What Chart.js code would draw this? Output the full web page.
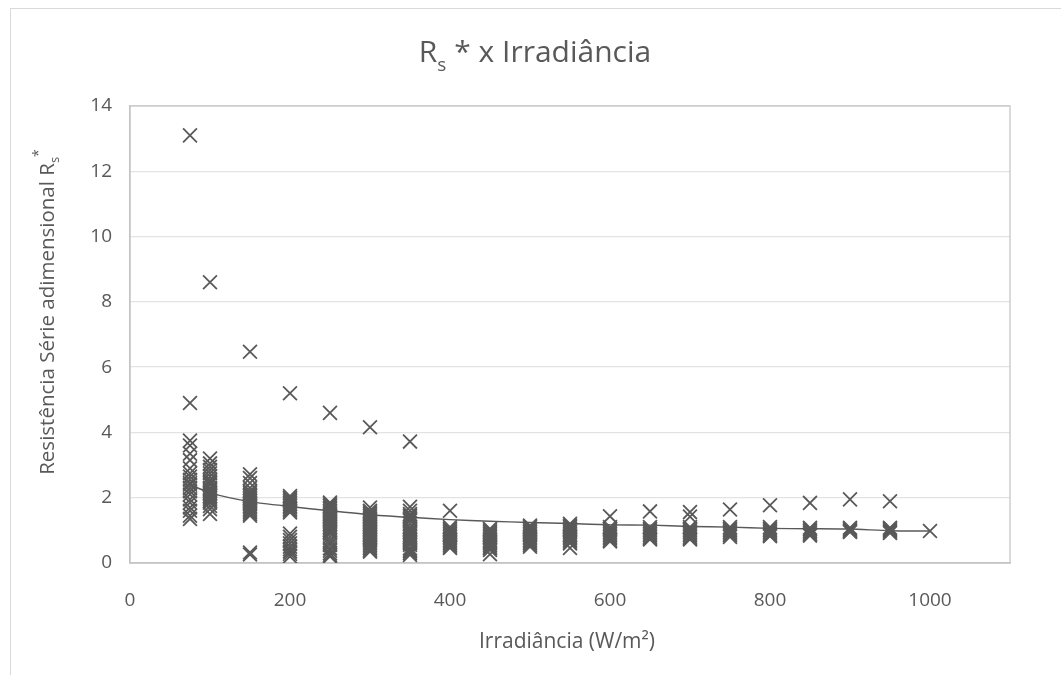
<!DOCTYPE html>
<html>
<head>
<meta charset="utf-8">
<title>Rs* x Irradiância</title>
<script src="https://cdn.jsdelivr.net/npm/chart.js@4.4.1/dist/chart.umd.min.js"></script>
<style>
  body { margin: 0; background: #fff; }
  #rsChart { display: block; }
</style>
</head>
<body>
<canvas id="rsChart" width="1061" height="675"></canvas>
<script>
// irradiance levels (W/m²) and measured Rs* at each level
var irr = [75, 100, 150, 200, 250, 300, 350, 400, 450, 500, 550, 600, 650, 700, 750, 800, 850, 900, 950, 1000];

var rs075 = [13.1, 4.9, 3.75, 3.6, 3.35, 3.15, 2.9, 2.75, 2.65, 2.55, 2.45, 2.4, 2.3, 2.2, 2.1, 1.95, 1.85, 1.7, 1.6, 1.45, 1.35];
var rs100 = [8.6, 3.2, 3.05, 2.95, 2.85, 2.75, 2.65, 2.55, 2.5, 2.45, 2.4, 2.3, 2.25, 2.2, 2.15, 2.1, 2.05, 2.0, 1.95, 1.9, 1.85, 1.75, 1.65, 1.5];
var rs150 = [6.47, 2.72, 2.6, 2.45, 2.3, 2.2, 2.15, 2.1, 2.05, 2.0, 1.95, 1.9, 1.85, 1.8, 1.75, 1.7, 1.65, 1.6, 1.55, 1.5, 1.45, 0.32, 0.26];
var rs200 = [5.2, 2.05, 2.0, 1.95, 1.9, 1.85, 1.8, 1.75, 1.7, 1.65, 1.6, 1.55, 0.9, 0.8, 0.7, 0.6, 0.5, 0.42, 0.35, 0.28, 0.2];
var rs250 = [4.6, 1.85, 1.8, 1.75, 1.7, 1.65, 1.6, 1.55, 1.5, 1.45, 1.4, 1.35, 1.3, 1.25, 1.2, 1.15, 1.1, 1.05, 1.0, 0.95, 0.9, 0.8, 0.7, 0.62, 0.55, 0.45, 0.38, 0.3, 0.25, 0.2];
var rs300 = [4.16, 1.7, 1.6, 1.55, 1.5, 1.45, 1.4, 1.35, 1.3, 1.25, 1.2, 1.15, 1.1, 1.05, 1.0, 0.95, 0.9, 0.85, 0.8, 0.75, 0.7, 0.65, 0.6, 0.55, 0.5, 0.45, 0.4, 0.35];
var rs350 = [3.72, 1.72, 1.6, 1.5, 1.45, 1.4, 1.35, 1.3, 1.2, 1.1, 1.05, 1.0, 0.95, 0.9, 0.85, 0.8, 0.75, 0.7, 0.65, 0.6, 0.55, 0.45, 0.4, 0.35, 0.3, 0.25];
var rs400 = [1.6, 1.1, 1.05, 1.0, 0.95, 0.9, 0.85, 0.8, 0.75, 0.7, 0.65, 0.6, 0.55, 0.5, 0.46];
var rs450 = [1.05, 1.0, 0.95, 0.9, 0.85, 0.8, 0.75, 0.7, 0.65, 0.6, 0.55, 0.5, 0.45, 0.4, 0.27];
var rs500 = [1.15, 1.1, 1.05, 1.0, 0.95, 0.9, 0.85, 0.8, 0.75, 0.7, 0.65, 0.6, 0.55, 0.5];
var rs550 = [1.2, 1.15, 1.1, 1.05, 1.0, 0.95, 0.9, 0.85, 0.8, 0.75, 0.7, 0.65, 0.6, 0.46];
var rs600 = [1.43, 1.1, 1.05, 1.0, 0.95, 0.9, 0.85, 0.8, 0.75, 0.7, 0.66];
var rs650 = [1.58, 1.1, 1.05, 1.0, 0.95, 0.9, 0.85, 0.8, 0.75, 0.72];
var rs700 = [1.56, 1.42, 1.1, 1.05, 1.0, 0.95, 0.9, 0.85, 0.8, 0.75, 0.72];
var rs750 = [1.64, 1.1, 1.05, 1.0, 0.95, 0.9, 0.85, 0.8];
var rs800 = [1.77, 1.1, 1.05, 1.0, 0.95, 0.9, 0.85, 0.82];
var rs850 = [1.84, 1.08, 1.03, 0.98, 0.93, 0.88, 0.84];
var rs900 = [1.95, 1.08, 1.04, 1.0, 0.97, 0.95];
var rs950 = [1.89, 1.08, 1.04, 1.0, 0.96, 0.92];
var rs1000 = [0.98];

// curve through the measurements
var rsCurve = [2.4, 2.15, 1.88, 1.73, 1.6, 1.48, 1.4, 1.33, 1.28, 1.24, 1.21, 1.17, 1.16, 1.12, 1.1, 1.06, 1.05, 1.04, 0.99, 0.98];

var xTicks = [0, 200, 400, 600, 800, 1000];

var measured = [rs075, rs100, rs150, rs200, rs250, rs300, rs350, rs400, rs450, rs500,
                rs550, rs600, rs650, rs700, rs750, rs800, rs850, rs900, rs950, rs1000];

var grey = '#595959';
var fontFamily = '"Open Sans", "Liberation Sans", sans-serif';

var points = [];
for (var i = 0; i < irr.length; i++) {
  for (var j = 0; j < measured[i].length; j++) {
    points.push({ x: irr[i], y: measured[i][j] });
  }
}
var curve = [];
for (var k = 0; k < irr.length; k++) {
  curve.push({ x: irr[k], y: rsCurve[k] });
}

// outer frame + plot box
var frame = {
  id: 'frame',
  beforeDraw: function(chart) {
    var c = chart.ctx;
    c.save();
    c.fillStyle = '#fff';
    c.fillRect(0, 0, chart.width, chart.height);
    c.strokeStyle = '#d9d9d9';
    c.lineWidth = 1;
    c.strokeRect(10.5, 8.5, 1200, 800);
    c.restore();
  },
  beforeDatasetsDraw: function(chart) {
    var a = chart.chartArea, c = chart.ctx;
    c.save();
    c.strokeStyle = '#c6c6c6';
    c.lineWidth = 1.3;
    c.strokeRect(a.left, a.top, a.right - a.left, a.bottom - a.top);
    c.restore();
  }
};

// titles with subscript / superscript
function drawParts(c, parts, cx, baseY) {
  var total = 0;
  parts.forEach(function(p) {
    c.font = p.size + 'px ' + fontFamily;
    p.w = c.measureText(p.text).width;
    total += p.w;
  });
  var x = cx - total / 2;
  parts.forEach(function(p) {
    c.font = p.size + 'px ' + fontFamily;
    c.fillText(p.text, x, baseY + (p.dy || 0));
    x += p.w;
  });
}

var titles = {
  id: 'titles',
  afterDraw: function(chart) {
    var c = chart.ctx;
    c.save();
    c.fillStyle = grey;
    c.textBaseline = 'alphabetic';
    c.textAlign = 'left';

    drawParts(c, [
      { text: 'R', size: 30 },
      { text: 's', size: 19, dy: 9 },
      { text: ' * x Irradiância', size: 30 }
    ], 535, 62);

    drawParts(c, [
      { text: 'Irradiância (W/m²)', size: 21 }
    ], 567, 648);

    c.translate(54, 312);
    c.rotate(-Math.PI / 2);
    drawParts(c, [
      { text: 'Resistência Série adimensional R', size: 20.5 },
      { text: 's', size: 13, dy: 5 },
      { text: '*', size: 14, dy: -11 }
    ], 0, 0);
    c.restore();
  }
};

var ctx = document.getElementById('rsChart');
var rsChart = new Chart(ctx, {
  type: 'scatter',
  data: {
    datasets: [
      {
        label: 'Rs*',
        data: points,
        pointStyle: 'crossRot',
        pointRadius: 9.8,
        pointBorderWidth: 1.8,
        borderColor: grey,
        backgroundColor: grey
      },
      {
        label: 'curva',
        data: curve,
        showLine: true,
        pointRadius: 0,
        borderColor: grey,
        borderWidth: 1.4,
        tension: 0.2
      }
    ]
  },
  options: {
    responsive: false,
    animation: false,
    events: [],
    layout: { padding: { top: 106, right: 51, left: 0, bottom: 0 } },
    plugins: {
      legend: { display: false },
      tooltip: { enabled: false },
      title: { display: false }
    },
    scales: {
      x: {
        type: 'linear',
        min: 0,
        max: 1100,
        afterBuildTicks: function(scale) {
          scale.ticks = xTicks.map(function(v) { return { value: v }; });
        },
        afterFit: function(scale) { scale.height = 112; },
        ticks: {
          color: grey, font: { family: fontFamily, size: 19 }, padding: 26, maxRotation: 0,
          callback: function(v) { return String(v); }
        },
        grid: { display: false, drawTicks: false },
        border: { color: '#bfbfbf', width: 1.5 }
      },
      y: {
        min: 0,
        max: 14,
        afterFit: function(scale) { scale.width = 130; },
        ticks: { stepSize: 2, color: grey, font: { family: fontFamily, size: 19 }, padding: 18 },
        grid: { color: '#e3e3e3', lineWidth: 1.3, drawTicks: false },
        border: { color: '#bfbfbf', width: 1.3 }
      }
    }
  },
  plugins: [frame, titles]
});
</script>
</body>
</html>
